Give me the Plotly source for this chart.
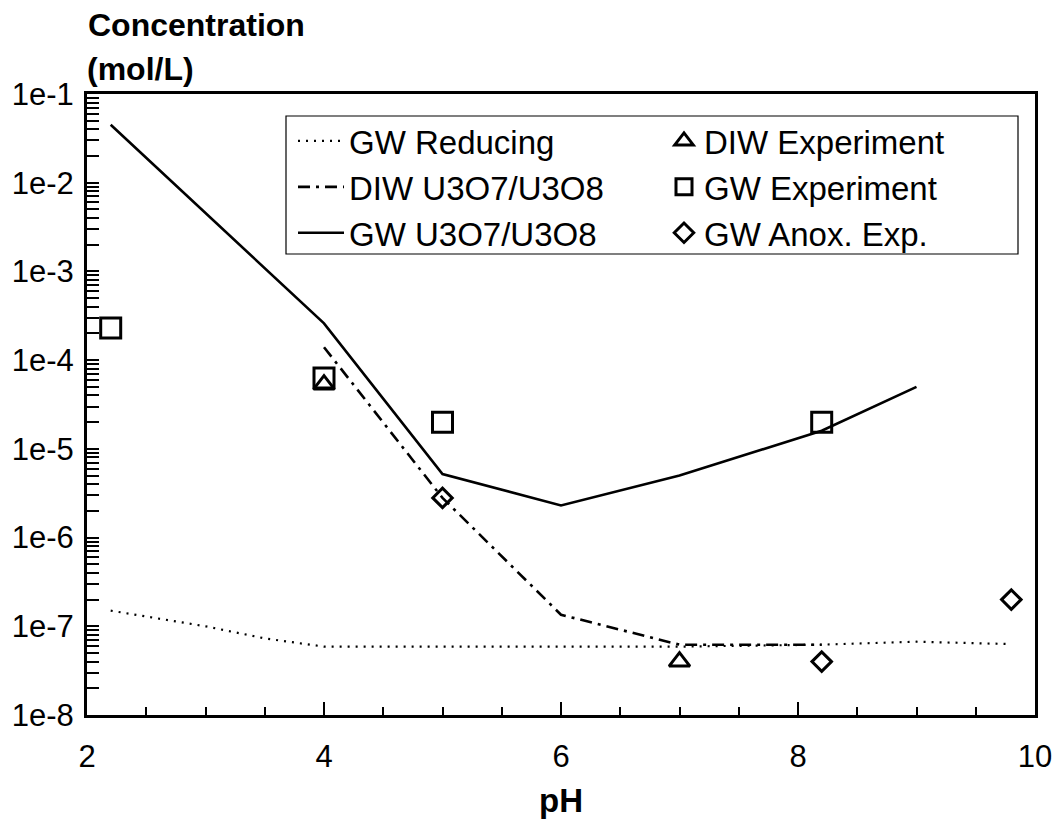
import plotly.graph_objects as go

# Model curves
ph_gw_reducing = [2.2, 3.0, 3.5, 4.0, 5.0, 6.0, 7.0, 8.2, 9.0, 9.8]
c_gw_reducing = [1.5e-7, 1.0e-7, 7.3e-8, 5.9e-8, 5.9e-8, 5.9e-8, 5.9e-8, 6.2e-8, 6.7e-8, 6.3e-8]

ph_diw_model = [4.0, 5.0, 6.0, 7.0, 8.2]
c_diw_model = [1.4e-4, 2.8e-6, 1.35e-7, 6.2e-8, 6.2e-8]

ph_gw_model = [2.2, 4.0, 5.0, 6.0, 7.0, 8.2, 9.0]
c_gw_model = [4.5e-2, 2.6e-4, 5.2e-6, 2.3e-6, 5.0e-6, 1.6e-5, 5.0e-5]

# Measurements
ph_diw_exp = [4.0, 7.0]
c_diw_exp = [5.3e-5, 4.0e-8]

ph_gw_exp = [2.2, 4.0, 5.0, 8.2]
c_gw_exp = [2.3e-4, 6.3e-5, 2.0e-5, 2.0e-5]

ph_gw_anox = [5.0, 8.2, 9.8]
c_gw_anox = [2.8e-6, 4.0e-8, 2.0e-7]

# Axis ticks
x_tick_vals = [2, 4, 6, 8, 10]
y_decades = [-8, -7, -6, -5, -4, -3, -2, -1]
y_tick_labels = ["1e-8", "1e-7", "1e-6", "1e-5", "1e-4", "1e-3", "1e-2", "1e-1"]

FONT = "Liberation Sans, Arial, sans-serif"
W, H = 1063, 823
L, R, T, B = 87, 28, 94, 108
PW, PH = W - L - R, H - T - B


def px_x(p):
    return (p - L) / PW


def px_y(p):
    return 1 - (p - T) / PH


fig = go.Figure()

fig.add_trace(go.Scatter(
    x=ph_gw_reducing, y=c_gw_reducing, mode="lines", name="GW Reducing",
    line=dict(color="black", width=2.2, dash="2px,6px"), legend="legend",
))
fig.add_trace(go.Scatter(
    x=ph_diw_model, y=c_diw_model, mode="lines", name="DIW U3O7/U3O8",
    line=dict(color="black", width=2.6, dash="12px,6px,3px,6px"), legend="legend",
))
fig.add_trace(go.Scatter(
    x=ph_gw_model, y=c_gw_model, mode="lines", name="GW U3O7/U3O8",
    line=dict(color="black", width=2.6), legend="legend",
))
fig.add_trace(go.Scatter(
    x=ph_diw_exp, y=c_diw_exp, mode="markers", name="DIW Experiment",
    marker=dict(symbol="triangle-up-open", size=18, color="black", line=dict(width=3)),
    legend="legend2",
))
fig.add_trace(go.Scatter(
    x=ph_gw_exp, y=c_gw_exp, mode="markers", name="GW Experiment",
    marker=dict(symbol="square-open", size=20, color="black", line=dict(width=3)),
    legend="legend2",
))
fig.add_trace(go.Scatter(
    x=ph_gw_anox, y=c_gw_anox, mode="markers", name="GW Anox. Exp.",
    marker=dict(symbol="diamond-open", size=15, color="black", line=dict(width=3)),
    legend="legend2",
))

# y ticks: decades labelled, intermediate multiples unlabelled
y_vals, y_text = [], []
for d, lab in zip(y_decades, y_tick_labels):
    y_vals.append(10.0 ** d)
    y_text.append(lab)
    if d < -1:
        for m in range(2, 10):
            y_vals.append(m * 10.0 ** d)
            y_text.append("")

legend_font = dict(family=FONT, size=33, color="black")

fig.update_layout(
    width=W, height=H,
    margin=dict(l=L, r=R, t=T, b=B),
    paper_bgcolor="white", plot_bgcolor="white",
    font=dict(family=FONT, size=30, color="black"),
    showlegend=True,
    legend=dict(
        x=px_x(293), y=px_y(113), xanchor="left", yanchor="top",
        bgcolor="rgba(0,0,0,0)", borderwidth=0, font=legend_font,
        tracegroupgap=0, itemwidth=46,
    ),
    legend2=dict(
        x=px_x(664), y=px_y(113), xanchor="left", yanchor="top",
        bgcolor="rgba(0,0,0,0)", borderwidth=0, font=legend_font,
        tracegroupgap=0,
    ),
    xaxis=dict(
        range=[2, 10], tickvals=x_tick_vals, ticktext=[str(v) for v in x_tick_vals],
        ticks="inside", ticklen=13, tickwidth=2, tickcolor="black",
        minor=dict(dtick=0.5, ticks="inside", ticklen=8, tickwidth=2, tickcolor="black", showgrid=False),
        showline=True, linewidth=3, linecolor="black", mirror=True,
        showgrid=False, zeroline=False, ticklabelstandoff=12,
        tickfont=dict(family=FONT, size=31),
    ),
    yaxis=dict(
        type="log", range=[-8, -1], tickmode="array", tickvals=y_vals, ticktext=y_text,
        ticks="inside", ticklen=12, tickwidth=2, tickcolor="black",
        showline=True, linewidth=3, linecolor="black", mirror=True,
        showgrid=False, zeroline=False, ticklabelstandoff=4,
        tickfont=dict(family=FONT, size=31),
    ),
    shapes=[dict(
        type="rect", xref="paper", yref="paper",
        x0=px_x(286), x1=px_x(1018), y0=px_y(254), y1=px_y(116),
        line=dict(color="black", width=1.2), fillcolor="white", layer="below",
    )],
    annotations=[
        dict(text="<b>Concentration</b>", xref="paper", yref="paper",
             x=px_x(86), y=px_y(25), xanchor="left", yanchor="middle",
             showarrow=False, font=dict(family=FONT, size=32)),
        dict(text="<b>(mol/L)</b>", xref="paper", yref="paper",
             x=px_x(85), y=px_y(69), xanchor="left", yanchor="middle",
             showarrow=False, font=dict(family=FONT, size=32)),
        dict(text="<b>pH</b>", xref="paper", yref="paper",
             x=px_x(561), y=px_y(800), xanchor="center", yanchor="middle",
             showarrow=False, font=dict(family=FONT, size=33)),
    ],
)

fig.write_html("out.html")
